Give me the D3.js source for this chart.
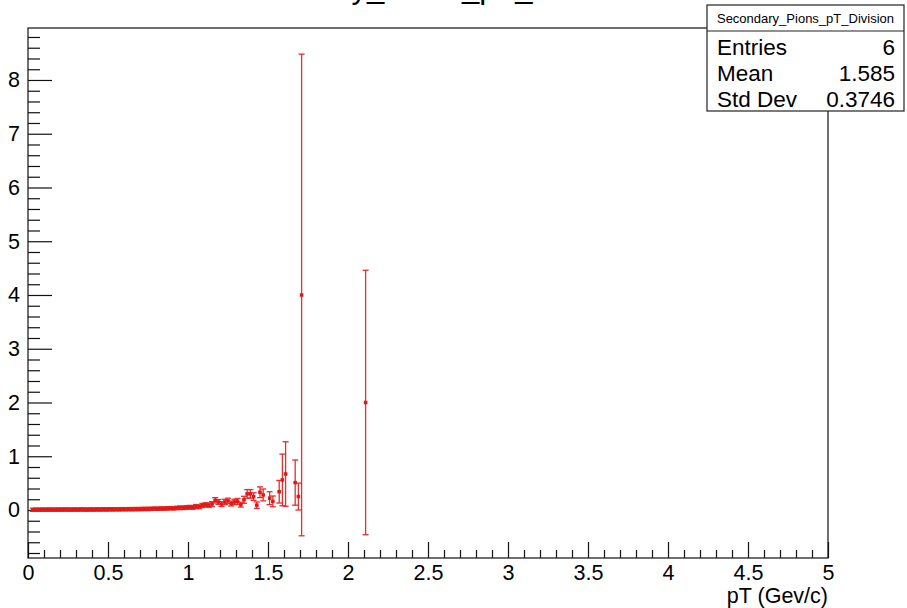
<!DOCTYPE html>
<html>
<head>
<meta charset="utf-8">
<script src="https://cdn.jsdelivr.net/npm/d3@7"></script>
<style>
  html, body { margin: 0; padding: 0; background: #fff; }
  svg { display: block; font-family: "Liberation Sans", Arial, Helvetica, sans-serif; }
</style>
</head>
<body>
<svg id="chart" width="907" height="608"></svg>
<script>
// Histogram Secondary_Pions_pT_Division: bin centres (GeV/c), contents and errors
const binWidth = 0.02;
const binCenters = [
  0.03, 0.05, 0.07, 0.09, 0.11, 0.13, 0.15, 0.17, 0.19, 0.21,
  0.23, 0.25, 0.27, 0.29, 0.31, 0.33, 0.35, 0.37, 0.39, 0.41,
  0.43, 0.45, 0.47, 0.49, 0.51, 0.53, 0.55, 0.57, 0.59, 0.61,
  0.63, 0.65, 0.67, 0.69, 0.71, 0.73, 0.75, 0.77, 0.79, 0.81,
  0.83, 0.85, 0.87, 0.89, 0.91, 0.93, 0.95, 0.97, 0.99, 1.01,
  1.03, 1.05, 1.07, 1.09, 1.11, 1.13, 1.15, 1.17, 1.19, 1.21,
  1.23, 1.25, 1.27, 1.29, 1.31, 1.33, 1.35, 1.37, 1.39, 1.41,
  1.43, 1.45, 1.47, 1.51, 1.53, 1.57, 1.59, 1.61, 1.67, 1.69,
  1.71, 2.11
];
const binValues = [
  0.004, 0.006, 0.005, 0.007, 0.006, 0.008, 0.007, 0.006, 0.008, 0.007,
  0.009, 0.008, 0.007, 0.009, 0.008, 0.010, 0.009, 0.008, 0.010, 0.009,
  0.011, 0.010, 0.012, 0.011, 0.013, 0.012, 0.014, 0.013, 0.015, 0.014,
  0.016, 0.015, 0.017, 0.016, 0.018, 0.020, 0.019, 0.022, 0.025, 0.023,
  0.028, 0.026, 0.030, 0.033, 0.031, 0.038, 0.042, 0.040, 0.047, 0.052,
  0.048, 0.065, 0.060, 0.085, 0.095, 0.090, 0.110, 0.180, 0.150, 0.110,
  0.150, 0.170, 0.120, 0.150, 0.160, 0.100, 0.190, 0.300, 0.300, 0.250,
  0.090, 0.330, 0.280, 0.220, 0.160, 0.340, 0.560, 0.670, 0.510, 0.250,
  4.000, 2.000
];
const binErrors = [
  0.030, 0.030, 0.030, 0.030, 0.030, 0.030, 0.030, 0.030, 0.030, 0.030,
  0.030, 0.030, 0.030, 0.030, 0.030, 0.030, 0.030, 0.030, 0.030, 0.030,
  0.030, 0.030, 0.030, 0.030, 0.030, 0.030, 0.030, 0.030, 0.030, 0.030,
  0.030, 0.030, 0.030, 0.030, 0.030, 0.030, 0.030, 0.030, 0.030, 0.030,
  0.030, 0.030, 0.030, 0.030, 0.030, 0.032, 0.032, 0.032, 0.034, 0.034,
  0.034, 0.036, 0.036, 0.038, 0.040, 0.040, 0.045, 0.050, 0.045, 0.045,
  0.050, 0.050, 0.045, 0.050, 0.055, 0.045, 0.065, 0.080, 0.080, 0.070,
  0.060, 0.100, 0.110, 0.120, 0.100, 0.210, 0.480, 0.600, 0.420, 0.250,
  4.480, 2.460
];

// Axis ticks
const xMajorTicks = [0, 0.5, 1, 1.5, 2, 2.5, 3, 3.5, 4, 4.5, 5];
const xTickLabels = ["0", "0.5", "1", "1.5", "2", "2.5", "3", "3.5", "4", "4.5", "5"];
const yMajorTicks = [0, 1, 2, 3, 4, 5, 6, 7, 8];
const yTickLabels = ["0", "1", "2", "3", "4", "5", "6", "7", "8"];

// Statistics box
const statsTitle = "Secondary_Pions_pT_Division";
const statsNames = ["Entries", "Mean", "Std Dev"];
const statsValues = ["6", "1.585", "0.3746"];

const histTitle = "Secondary_Pions_pT_Division";
const xAxisTitle = "pT (Gev/c)";

const frame = { left: 28, right: 828, top: 28, bottom: 558 };
const svg = d3.select("#chart");

const x = d3.scaleLinear().domain([0, 5]).range([frame.left, frame.right]);
const y = d3.scaleLinear().domain([-0.893, 8.967]).range([frame.bottom, frame.top]);

// Title (sits above the visible canvas edge)
svg.append("text")
  .attr("x", 430).attr("y", -2)
  .attr("text-anchor", "middle")
  .attr("font-size", 31)
  .attr("fill", "#000")
  .text(histTitle);

// Frame
svg.append("rect")
  .attr("x", frame.left).attr("y", frame.top)
  .attr("width", frame.right - frame.left).attr("height", frame.bottom - frame.top)
  .attr("fill", "none").attr("stroke", "#111").attr("stroke-width", 1.2);

// Minor tick values
const xMinor = d3.range(0, 51).map(i => i / 10).filter(v => !xMajorTicks.some(t => Math.abs(t - v) < 1e-9));
const yMinor = d3.range(-4, 45).map(i => i / 5)
  .filter(v => v > y.domain()[0] && v < y.domain()[1] && Math.abs(v - Math.round(v)) > 1e-9);

// X axis (ticks point into the frame)
const xAxisG = svg.append("g").attr("transform", `translate(0,${frame.bottom})`);
xAxisG.call(d3.axisBottom(x).tickValues(xMajorTicks)
  .tickFormat((d, i) => xTickLabels[i]).tickSizeInner(-16).tickSizeOuter(0).tickPadding(7));
xAxisG.append("g").call(d3.axisBottom(x).tickValues(xMinor).tickFormat("").tickSizeInner(-8).tickSizeOuter(0));
xAxisG.selectAll(".domain").remove();
xAxisG.selectAll("line").attr("stroke", "#111").attr("stroke-width", 1.2);
xAxisG.selectAll("text").attr("font-size", 21.5).attr("fill", "#000")
  .attr("font-family", "Liberation Sans, Arial, sans-serif");

// Y axis
const yAxisG = svg.append("g").attr("transform", `translate(${frame.left},0)`);
yAxisG.call(d3.axisLeft(y).tickValues(yMajorTicks)
  .tickFormat((d, i) => yTickLabels[i]).tickSizeInner(-24).tickSizeOuter(0).tickPadding(8));
yAxisG.append("g").call(d3.axisLeft(y).tickValues(yMinor).tickFormat("").tickSizeInner(-12).tickSizeOuter(0));
yAxisG.selectAll(".domain").remove();
yAxisG.selectAll("line").attr("stroke", "#111").attr("stroke-width", 1.2);
yAxisG.selectAll("text").attr("font-size", 21.5).attr("fill", "#000")
  .attr("font-family", "Liberation Sans, Arial, sans-serif");

// X axis title
svg.append("text")
  .attr("x", frame.right).attr("y", 603)
  .attr("text-anchor", "end")
  .attr("font-size", 21.5)
  .attr("fill", "#000")
  .text(xAxisTitle);

// Data points with error bars (E1 style)
const pts = binCenters.map((c, i) => ({ c, v: binValues[i], e: binErrors[i] }));
const red = "#ee2a2a";
const g = svg.append("g").attr("stroke", red).attr("stroke-width", 1.3).attr("fill", "none");
const cap = 3;
pts.forEach(p => {
  const cx = x(p.c);
  const cy = y(p.v);
  const y0 = y(p.v - p.e);
  const y1 = y(p.v + p.e);
  g.append("line").attr("x1", x(p.c - binWidth / 2)).attr("x2", x(p.c + binWidth / 2))
    .attr("y1", cy).attr("y2", cy);
  g.append("line").attr("x1", cx).attr("x2", cx).attr("y1", y0).attr("y2", y1);
  g.append("line").attr("x1", cx - cap).attr("x2", cx + cap).attr("y1", y0).attr("y2", y0);
  g.append("line").attr("x1", cx - cap).attr("x2", cx + cap).attr("y1", y1).attr("y2", y1);
});
svg.append("g").selectAll("rect").data(pts).join("rect")
  .attr("x", d => x(d.c) - 1.75).attr("y", d => y(d.v) - 1.75)
  .attr("width", 3.5).attr("height", 3.5)
  .attr("fill", "#e01818");

// Statistics box
const sb = { x: 707, y: 5, w: 197, h: 106, head: 26 };
svg.append("rect").attr("x", sb.x).attr("y", sb.y).attr("width", sb.w).attr("height", sb.h)
  .attr("fill", "#fff").attr("stroke", "#222").attr("stroke-width", 1.2);
svg.append("line").attr("x1", sb.x).attr("x2", sb.x + sb.w)
  .attr("y1", sb.y + sb.head).attr("y2", sb.y + sb.head).attr("stroke", "#222").attr("stroke-width", 1.2);
svg.append("text").attr("x", sb.x + sb.w / 2).attr("y", sb.y + 18)
  .attr("text-anchor", "middle").attr("font-size", 13).attr("fill", "#000").text(statsTitle);
statsNames.forEach((n, i) => {
  const by = 55 + i * 26;
  svg.append("text").attr("x", sb.x + 10).attr("y", by).attr("font-size", 22.5).attr("fill", "#000").text(n);
  svg.append("text").attr("x", sb.x + sb.w - 9).attr("y", by).attr("text-anchor", "end")
    .attr("font-size", 22.5).attr("fill", "#000").text(statsValues[i]);
});
</script>
</body>
</html>
